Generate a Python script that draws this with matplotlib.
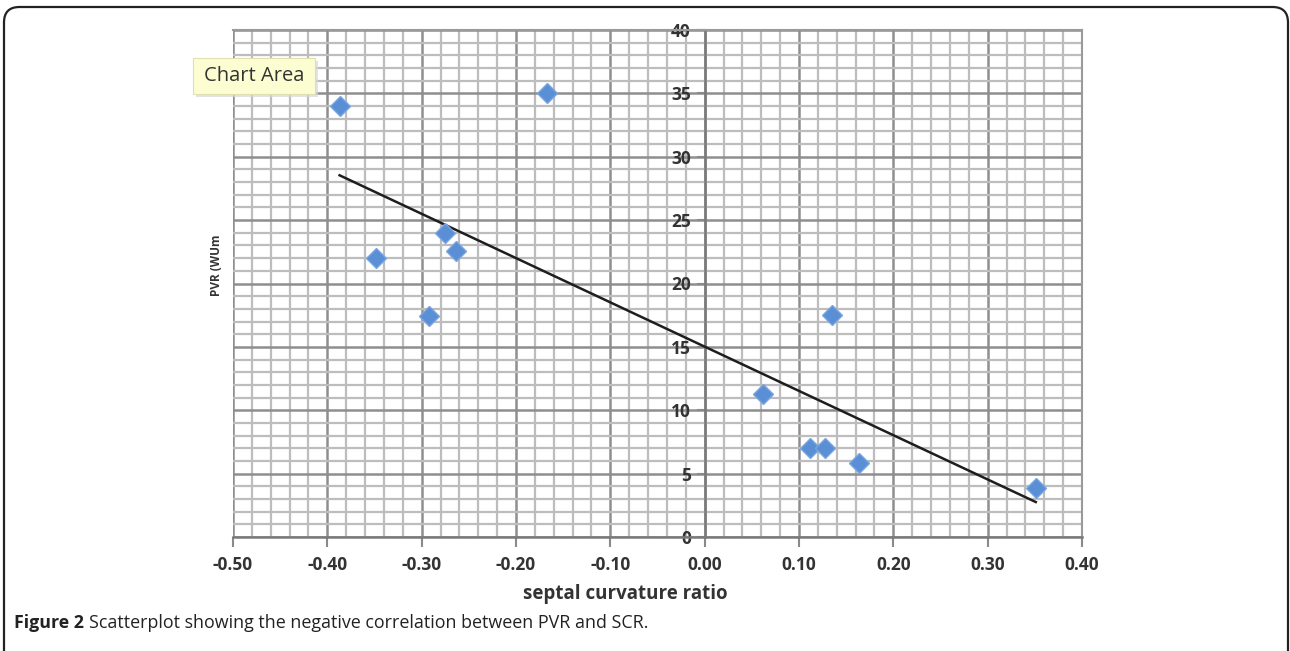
import numpy as np
import matplotlib
matplotlib.use('Agg')
import matplotlib.pyplot as plt
from matplotlib.patches import FancyBboxPatch

# data
scr = [-0.387, -0.167, -0.348, -0.275, -0.264, -0.292,
       0.062, 0.135, 0.112, 0.128, 0.164, 0.351]
pvr = [34.0, 35.0, 22.0, 24.0, 22.6, 17.4,
       11.3, 17.5, 7.0, 7.0, 5.8, 3.9]

x_ticks = [-0.5, -0.4, -0.3, -0.2, -0.1, 0.0, 0.1, 0.2, 0.3, 0.4]
y_ticks = [0, 5, 10, 15, 20, 25, 30, 35, 40]

W, H = 1290, 651
fig = plt.figure(figsize=(W / 100, H / 100), dpi=100)

def px(x, y):
    # pixel (from top-left) -> figure fraction
    return x / W, 1 - y / H

# plot area
l, t = px(233, 30)
r, b = px(1082, 537)
ax = fig.add_axes([l, b, r - l, t - b])
ax.set_xlim(-0.5, 0.4)
ax.set_ylim(0, 40)

ax.set_xticks(x_ticks)
ax.set_xticklabels(['%.2f' % v for v in x_ticks])
ax.set_yticks(y_ticks)
ax.set_xticks(np.arange(-0.5, 0.4001, 0.02), minor=True)
ax.set_yticks(np.arange(0, 40.001, 1), minor=True)

ax.grid(which='minor', color='#bdbdbd', linewidth=1.6, zorder=0)
ax.grid(which='major', color='#8e8e8e', linewidth=1.8, zorder=0)
ax.set_axisbelow(True)

for s in ['top', 'right']:
    ax.spines[s].set_color('#9a9a9a')
    ax.spines[s].set_linewidth(1.5)
ax.spines['left'].set_position(('data', 0))
ax.spines['left'].set_color('#7a7a7a')
ax.spines['left'].set_linewidth(1.8)
ax.spines['bottom'].set_color('#7a7a7a')
ax.spines['bottom'].set_linewidth(1.8)

ax.tick_params(which='minor', length=0)
ax.tick_params(axis='x', which='major', direction='out', length=7, width=1.5,
               color='#8a8a8a', pad=7, labelsize=12.5, labelcolor='#333333')
ax.tick_params(axis='y', which='major', direction='out', length=6, width=1.5,
               color='#8a8a8a', pad=4, labelsize=12.5, labelcolor='#333333')
for lab in ax.get_xticklabels() + ax.get_yticklabels():
    lab.set_fontweight('bold')
    lab.set_family('Open Sans')

# trendline
k, c = np.polyfit(scr, pvr, 1)
xs = np.array([min(scr), max(scr)])
ax.plot(xs, k * xs + c, color='#1e1e1e', linewidth=1.8, zorder=3)

ax.plot(scr, pvr, linestyle='none', marker='D', markersize=10.5,
        markerfacecolor='#5b8fd5', markeredgecolor='#7aa6e0',
        markeredgewidth=1.0, zorder=4)

# axis titles
fx, fy = px(625, 594)
fig.text(fx, fy, 'septal curvature ratio', ha='center', va='center',
         fontsize=13.5, fontweight='bold', color='#333333', family='Open Sans')
fx, fy = px(216, 265)
fig.text(fx, fy, 'PVR (WUm', ha='center', va='center', rotation=90,
         fontsize=8.5, fontweight='bold', color='#333333', family='Open Sans')

# "Chart Area" tooltip
bx, by = px(193, 94)
bw, bh = 122 / W, 36 / H
fig.patches.append(FancyBboxPatch((bx + 3 / W, by - 3 / H), bw, bh,
                                  boxstyle='square,pad=0', transform=fig.transFigure,
                                  facecolor='#d8d8d8', edgecolor='none', alpha=0.7))
fig.patches.append(FancyBboxPatch((bx, by), bw, bh, boxstyle='square,pad=0',
                                  transform=fig.transFigure, facecolor='#fdfdd2',
                                  edgecolor='#e0dfb0', linewidth=0.8))
fx, fy = px(254, 76)
fig.text(fx, fy, 'Chart Area', ha='center', va='center', fontsize=14.5,
         color='#333333', family='Open Sans')

# outer rounded frame (bottom runs past the image edge)
ox, oy = px(4, 700)
fig.patches.append(FancyBboxPatch((ox, oy), 1284 / W, 693 / H,
                                  boxstyle='round,pad=0,rounding_size=0.012',
                                  transform=fig.transFigure, facecolor='none',
                                  edgecolor='#222222', linewidth=1.6,
                                  mutation_aspect=W / H))

# caption
fx, fy = px(14, 623)
cap = fig.text(fx, fy, 'Figure 2', ha='left', va='center', fontsize=12.8,
               fontweight='bold', color='#222222', family='Open Sans')
fig.canvas.draw()
bb = cap.get_window_extent()
fig.text(bb.x1 / W + 5 / W, fy, 'Scatterplot showing the negative correlation between PVR and SCR.',
         ha='left', va='center', fontsize=12.9, color='#222222', family='Open Sans')

fig.savefig('out.png', dpi=100)
